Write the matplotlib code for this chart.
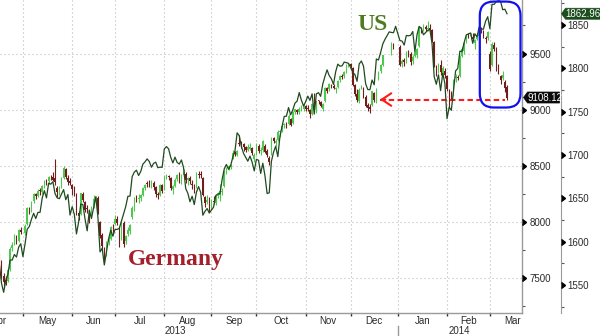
import numpy as np
import pandas as pd
import matplotlib
matplotlib.use("Agg")
import matplotlib.pyplot as plt
from matplotlib import font_manager
from matplotlib.transforms import blended_transform_factory, IdentityTransform
from matplotlib.patches import FancyBboxPatch, Polygon
from matplotlib.ticker import FixedLocator, NullFormatter

# ---------------- data: one slot per weekday, 15 Apr 2013 .. 13 Mar 2014 (None = market closed)
dates = pd.bdate_range("2013-04-15", "2014-03-13")

dax_open = [
    7740, 7700, 7640, 7520, 7480,  7470, 7580, 7770, 7800, 7860,  7830, 7930, None, 7900, 7980,
    8110, 8100, 8190, 8250, 8230,  8280, 8270, 8320, 8370, 8360,  8400, 8400, 8390, 8300, 8260,
    8310, 8390, 8470, 8390, 8360,  8330, 8300, 8240, 8080, 8070,  8250, 8180, 8120, 8100, 8090,
    8140, 8200, 8210, 8000, 7880,  7760, 7710, 7820, 7850, 7960,  7980, 8030, 7950, 7850, 7990,
    7830, 7890, 7920, 8040, 8120,  8220, 8200, 8210, 8240, 8300,  8340, 8340, 8320, 8350, 8310,
    8250, 8240, 8330, 8290, 8400,  8410, 8390, 8290, 8320, 8380,  8420, 8370, 8420, 8430, 8370,
    8390, 8340, 8330, 8310, 8430,  8420, 8390, 8220, 8180, 8190,  8120, 8190, 8170, 8230, 8240,
    8270, 8320, 8450, 8470, 8490,  8570, 8610, 8600, 8700, 8700,  8690, 8670, 8640, 8650, 8660,
    8560, 8610, 8680, 8630, 8640,  8680, 8630, 8570, 8610, 8750,  8700, 8730, 8800, 8820, 8860,
    8870, 8870, 8920, 8880, 8980,  9000, 8980, 9010, 9010, 9030,  9010, 9000, 8960, 9040, 9000,
    9080, 9070, 9010, 9080, 9190,  9180, 9220, 9210, 9180, 9200,  9260, 9300, 9300, 9340, 9400,
    9410, 9370, 9220, 9140, 9080,  9190, 9190, 9110, 9040, 9020,  9040, 9150, 9090, 9270, 9340,
    9400, None, None, None, 9500,  9580, None, None, 9560, 9410,  9440, 9430, 9510, 9500, 9430,
    9480, 9490, 9570, 9730, 9720,  9740, 9720, 9730, 9710, 9600,  9350, 9350, 9400, 9310, 9340,
    9300, 9130, 9140, 9130, 9280,  9290, 9300, 9480, 9520, 9600,  9660, 9660, 9650, 9590, 9630,
    9660, 9710, 9700, 9640, 9640,  9500, 9400, 9580, 9540, 9390,  9300, 9280, 9250, 9200,
]
dax_high = [
    7760, 7720, 7660, 7540, 7520,  7590, 7780, 7820, 7890, 7880,  7940, 7950, None, 7980, 8130,
    8130, 8190, 8260, 8260, 8290,  8300, 8330, 8370, 8380, 8410,  8420, 8440, 8557, 8320, 8320,
    8400, 8500, 8480, 8420, 8390,  8340, 8320, 8260, 8100, 8260,  8270, 8190, 8150, 8110, 8140,
    8240, 8230, 8230, 8010, 7900,  7780, 7830, 7870, 7960, 7980,  8060, 8050, 7960, 8010, 8010,
    7880, 7950, 7980, 8140, 8220,  8240, 8250, 8250, 8310, 8340,  8360, 8370, 8370, 8360, 8320,
    8270, 8340, 8340, 8420, 8430,  8420, 8400, 8330, 8390, 8430,  8440, 8430, 8470, 8440, 8400,
    8410, 8370, 8340, 8440, 8450,  8450, 8400, 8230, 8240, 8220,  8200, 8230, 8240, 8270, 8340,
    8300, 8460, 8490, 8510, 8520,  8640, 8630, 8640, 8770, 8720,  8700, 8680, 8690, 8700, 8670,
    8610, 8700, 8690, 8670, 8730,  8690, 8650, 8590, 8760, 8760,  8740, 8820, 8820, 8870, 8880,
    8890, 8960, 8930, 8990, 9010,  9010, 9020, 9040, 9050, 9040,  9040, 9010, 9060, 9150, 9080,
    9090, 9080, 9060, 9200, 9200,  9240, 9230, 9230, 9200, 9260,  9310, 9320, 9340, 9410, 9420,
    9420, 9380, 9230, 9180, 9190,  9220, 9200, 9130, 9060, 9050,  9170, 9160, 9190, 9340, 9410,
    9490, None, None, None, 9600,  9590, None, None, 9580, 9450,  9460, 9520, 9530, 9510, 9490,
    9520, 9550, 9740, 9740, 9760,  9750, 9790, 9760, 9720, 9610,  9400, 9420, 9440, 9390, 9370,
    9310, 9180, 9170, 9270, 9320,  9310, 9490, 9560, 9600, 9670,  9680, 9680, 9680, 9630, 9680,
    9720, 9740, 9710, 9660, 9700,  9520, 9600, 9600, 9560, 9410,  9310, 9340, 9260, 9220,
]
dax_low = [
    7690, 7640, 7490, 7420, 7440,  7460, 7560, 7740, 7790, 7800,  7820, 7890, None, 7880, 7970,
    8070, 8090, 8170, 8200, 8220,  8240, 8250, 8300, 8330, 8340,  8370, 8360, 8330, 8220, 8240,
    8300, 8380, 8380, 8330, 8330,  8240, 8230, 8060, 8020, 8060,  8180, 8090, 8080, 7990, 8060,
    8120, 8170, 8070, 7860, 7740,  7630, 7700, 7790, 7840, 7900,  7970, 7970, 7780, 7840, 7780,
    7800, 7870, 7890, 8030, 8100,  8180, 8170, 8190, 8230, 8280,  8310, 8310, 8300, 8280, 8220,
    8200, 8230, 8260, 8280, 8380,  8370, 8280, 8250, 8310, 8360,  8350, 8340, 8400, 8350, 8330,
    8340, 8290, 8260, 8300, 8390,  8390, 8230, 8130, 8160, 8090,  8110, 8160, 8150, 8210, 8190,
    8240, 8310, 8430, 8460, 8470,  8560, 8590, 8590, 8680, 8660,  8630, 8620, 8630, 8640, 8600,
    8530, 8600, 8610, 8600, 8620,  8610, 8580, 8510, 8600, 8700,  8680, 8720, 8760, 8800, 8840,
    8840, 8860, 8850, 8870, 8960,  8960, 8960, 8990, 8990, 8990,  8990, 8930, 8950, 9010, 8970,
    9050, 9020, 8990, 9070, 9150,  9170, 9190, 9180, 9150, 9190,  9250, 9270, 9280, 9330, 9380,
    9370, 9210, 9120, 9070, 9060,  9180, 9100, 9020, 8990, 8970,  9030, 9070, 9060, 9260, 9330,
    9390, None, None, None, 9490,  9540, None, None, 9390, 9380,  9390, 9420, 9470, 9400, 9410,
    9470, 9460, 9560, 9680, 9700,  9700, 9700, 9700, 9600, 9380,  9300, 9330, 9310, 9280, 9280,
    9170, 9020, 9090, 9120, 9250,  9260, 9290, 9470, 9500, 9590,  9640, 9630, 9610, 9540, 9620,
    9640, 9680, 9640, 9590, 9620,  9340, 9390, 9520, 9340, 9320,  9230, 9260, 9160, 9090,
]
dax_close = [
    7712, 7663, 7503, 7460, 7459,  7572, 7760, 7794, 7870, 7815,  7926, 7913, None, 7962, 8122,
    8093, 8181, 8249, 8227, 8278,  8272, 8319, 8363, 8353, 8398,  8396, 8377, 8352, 8266, 8305,
    8383, 8480, 8396, 8352, 8349,  8295, 8251, 8078, 8056, 8254,  8199, 8110, 8118, 8075, 8127,
    8208, 8212, 8087, 7871, 7789,  7692, 7810, 7834, 7952, 7959,  8024, 7986, 7837, 8001, 7806,
    7870, 7929, 7969, 8126, 8213,  8198, 8211, 8237, 8301, 8331,  8336, 8323, 8345, 8307, 8244,
    8242, 8329, 8276, 8411, 8410,  8398, 8299, 8317, 8377, 8416,  8367, 8418, 8442, 8373, 8391,
    8361, 8328, 8299, 8434, 8416,  8419, 8242, 8167, 8195, 8103,  8180, 8180, 8234, 8234, 8276,
    8275, 8449, 8469, 8494, 8509,  8613, 8604, 8628, 8694, 8676,  8665, 8640, 8665, 8666, 8618,
    8594, 8689, 8630, 8630, 8725,  8624, 8592, 8534, 8747, 8725,  8723, 8804, 8806, 8853, 8870,
    8868, 8947, 8866, 8980, 9004,  8975, 9009, 9016, 9034, 9009,  9008, 8957, 9048, 9039, 9078,
    9077, 9035, 9054, 9192, 9169,  9225, 9213, 9193, 9192, 9254,  9299, 9291, 9335, 9400, 9406,
    9389, 9224, 9140, 9084, 9172,  9193, 9115, 9034, 9018, 9006,  9164, 9085, 9181, 9336, 9400,
    9488, None, None, None, 9589,  9552, None, None, 9400, 9435,  9428, 9506, 9497, 9422, 9473,
    9511, 9540, 9734, 9717, 9742,  9716, 9730, 9721, 9631, 9392,  9349, 9406, 9336, 9374, 9306,
    9186, 9128, 9117, 9265, 9290,  9285, 9478, 9540, 9597, 9662,  9657, 9660, 9626, 9618, 9657,
    9708, 9699, 9661, 9631, 9692,  9359, 9589, 9543, 9351, 9351,  9265, 9307, 9189, 9108.12,
]
sp_close = [
    1552.4, 1574.6, 1552.0, 1541.6, 1555.3,  1562.5, 1578.8, 1578.8, 1585.2, 1582.2,
    1593.6, 1597.6, 1582.7, 1597.6, 1614.4,  1617.5, 1626.0, 1632.7, 1626.7, 1633.7,
    1633.8, 1650.3, 1658.8, 1650.5, 1667.5,  1666.3, 1669.2, 1655.4, 1650.5, 1649.6,
    None, 1660.1, 1648.4, 1654.4, 1630.7,    1640.4, 1631.4, 1608.9, 1622.6, 1643.4,
    1642.8, 1626.1, 1612.5, 1636.4, 1626.7,  1639.0, 1651.8, 1628.9, 1588.2, 1592.4,
    1573.1, 1588.0, 1603.3, 1613.2, 1606.3,  1614.1, 1614.1, 1615.4, None, 1631.9,
    1640.5, 1652.3, 1652.6, 1675.0, 1680.2,  1682.5, 1676.3, 1680.9, 1689.4, 1692.1,
    1695.5, 1692.4, 1685.9, 1690.3, 1691.7,  1685.3, 1686.0, 1685.7, 1706.9, 1709.7,
    1707.1, 1697.4, 1690.9, 1697.5, 1691.4,  1689.5, 1694.2, 1685.4, 1661.3, 1655.8,
    1646.1, 1652.4, 1642.8, 1657.0, 1663.5,  1656.8, 1630.5, 1635.0, 1638.2, 1633.0,
    None, 1639.8, 1653.1, 1655.1, 1655.2,    1671.7, 1684.0, 1689.1, 1683.4, 1688.0,
    1697.6, 1704.8, 1725.5, 1722.3, 1709.9,  1701.8, 1697.4, 1692.8, 1698.7, 1691.8,
    1681.6, 1695.0, 1693.9, 1678.7, 1690.5,  1676.1, 1655.5, 1656.4, 1692.6, 1703.2,
    1710.1, 1698.1, 1721.5, 1733.2, 1744.5,  1744.7, 1754.7, 1746.4, 1752.1, 1759.8,
    1762.1, 1772.0, 1763.3, 1756.5, 1761.6,  1767.9, 1763.0, 1770.5, 1747.2, 1770.6,
    1771.9, 1767.7, 1782.0, 1790.6, 1798.2,  1791.5, 1787.9, 1781.4, 1795.9, 1804.8,
    1802.5, 1802.8, 1807.2, None, 1805.8,    1800.9, 1795.2, 1792.8, 1785.0, 1805.1,
    1808.4, 1802.6, 1782.2, 1775.5, 1775.3,  1786.5, 1781.0, 1810.7, 1809.6, 1818.3,
    1828.0, 1833.3, None, 1842.0, 1841.4,    1841.1, 1848.4, None, 1832.0, 1831.4,
    1826.8, 1837.9, 1837.5, 1838.1, 1842.4,  1819.2, 1838.9, 1848.4, 1845.9, 1838.7,
    None, 1843.8, 1844.9, 1828.5, 1790.3,    1781.6, 1792.5, 1774.2, 1794.2, 1782.6,
    1741.9, 1755.2, 1751.6, 1773.4, 1797.0,  1799.8, 1819.8, 1819.3, 1829.8, 1838.6,
    None, 1840.8, 1828.8, 1839.8, 1836.3,    1847.6, 1845.1, 1845.2, 1854.3, 1859.5,
    1845.7, 1873.9, 1873.8, 1877.0, 1878.0,  1877.2, 1867.6, 1868.2, 1862.96,
]

month_names = ["Apr", "May", "Jun", "Jul", "Aug", "Sep", "Oct", "Nov", "Dec", "Jan", "Feb", "Mar"]
year_labels = ["2013", "2014"]
dax_ticks = [7500, 8000, 8500, 9000, 9500]
dax_minor = [7250, 7750, 8250, 8750, 9250, 9750]
sp_ticks = [1550, 1600, 1650, 1700, 1750, 1800, 1850]
sp_minor = [1525, 1575, 1625, 1675, 1725, 1775, 1825, 1875]
label_us, label_de = "US", "Germany"

# ---------------- styling / layout
names = {f.name for f in font_manager.fontManager.ttflist}
tick_font = "Liberation Sans Narrow" if "Liberation Sans Narrow" in names else "Liberation Sans"
serif_font = "Liberation Serif" if "Liberation Serif" in names else "DejaVu Serif"
plt.rcParams["font.family"] = [tick_font, "DejaVu Sans"]

GREEN, RED, SPX = "#4ec84e", "#741b1b", "#1f4a1f"
GRID, AXC, TXT = "#b8b8b8", "#9a9a9a", "#2a2a2a"
W, H = 600.0, 336.0
AX_W, AX_B = 522.0, 23.0
OUT_PX = 38.5          # distance of the S&P axis from the DAX axis, pixels
x_lim = (1.3, 245.0)
dax_ylim = (7188, 9977)
sp_ylim = (1517.7, 1878.8)

n = len(dates)
for arr in (dax_open, dax_high, dax_low, dax_close, sp_close):
    assert len(arr) == n, (len(arr), n)

x = np.arange(n)
o = np.array(dax_open, dtype=float)
hi = np.array(dax_high, dtype=float)
lo = np.array(dax_low, dtype=float)
c = np.array(dax_close, dtype=float)
sp = np.array(sp_close, dtype=float)

# month boundaries in weekday-slot units
full = pd.bdate_range("2013-04-01", "2014-04-30")
off = full.get_loc(pd.Timestamp("2013-04-15"))
fpos = np.arange(len(full)) - off
mon = np.asarray(full.month)
mstart = fpos[np.r_[True, mon[1:] != mon[:-1]]]      # Apr13 .. Apr14
bounds = mstart[1:-1]                                  # May .. Mar
mids = (mstart[:-1] + mstart[1:]) / 2.0
jan_bound = mstart[9]

fig = plt.figure(figsize=(W / 100, H / 100), dpi=100)
fig.patch.set_facecolor("white")
ax = fig.add_axes([0, AX_B / H, AX_W / W, (H - AX_B) / H])
ax.set_facecolor("white")
ax2 = ax.twinx()

# candles
ok = ~np.isnan(c)
up = c >= o
cols = np.where(up, GREEN, RED)
ax.vlines(x[ok], lo[ok], hi[ok], colors=cols[ok], lw=0.8, zorder=2)
ax.bar(x[ok], np.maximum(np.abs(c - o), 6)[ok], bottom=np.minimum(o, c)[ok],
       width=0.72, color=cols[ok], linewidth=0, zorder=3)

# axes look
ax.set_xlim(*x_lim)
ax.set_ylim(*dax_ylim)
for s in ("left", "top"):
    ax.spines[s].set_visible(False)
for s in ("right", "bottom"):
    ax.spines[s].set_color(AXC)
    ax.spines[s].set_linewidth(1.0)
ax.set_axisbelow(True)
ax.set_xticks(bounds)
ax.xaxis.set_major_formatter(NullFormatter())
ax.tick_params(axis="x", length=2, width=1, color="#333333", direction="out")
ax.yaxis.tick_right()
ax.yaxis.set_label_position("right")
ax.set_yticks(dax_ticks)
ax.set_yticklabels([str(v) for v in dax_ticks])
ax.tick_params(axis="y", which="major", length=0, pad=5.5, labelsize=7, labelcolor=TXT,
               left=False, labelleft=False, right=True, labelright=True)
ax.yaxis.set_minor_locator(FixedLocator(dax_minor))
ax.yaxis.set_minor_formatter(NullFormatter())
ax.tick_params(axis="y", which="minor", length=2, width=0.8, color="#555555",
               right=True, left=False)
ax.grid(True, which="major", color=GRID, linestyle=(0, (1, 2.6)), linewidth=0.8)

bt = blended_transform_factory(ax.transAxes, ax.transData)
ax.plot(np.ones(len(dax_ticks)), dax_ticks, transform=bt, ls="none", marker=9, ms=4,
        color="black", clip_on=False, zorder=6)

# month and year labels
for name, m in zip(month_names, mids):
    ax.annotate(name, xy=(m, 0), xycoords=("data", "axes fraction"), xytext=(0, -6.0),
                textcoords="offset points", ha="center", va="center", fontsize=7,
                color=TXT, annotation_clip=False)
for lab, fx in zip(year_labels, (175.0 / AX_W, 459.0 / AX_W)):
    ax.annotate(lab, xy=(fx, 0), xycoords="axes fraction", xytext=(0, -13.0),
                textcoords="offset points", ha="center", va="center", fontsize=7,
                color=TXT, annotation_clip=False)
bx = blended_transform_factory(ax.transData, ax.transAxes)
ax.plot([jan_bound, jan_bound], [-13 / 313, -24 / 313], transform=bx, color=AXC,
        lw=1, clip_on=False)

# S&P 500 line on outer right axis
okp = ~np.isnan(sp)
ax2.plot(x[okp], sp[okp], color=SPX, lw=0.9, zorder=4)
ax2.set_ylim(*sp_ylim)
ax2.set_xlim(*x_lim)
for s in ("left", "top", "bottom"):
    ax2.spines[s].set_visible(False)
ax2.spines["right"].set_position(("outward", OUT_PX * 0.72))
ax2.spines["right"].set_color(AXC)
ax2.set_yticks(sp_ticks)
ax2.set_yticklabels([str(v) for v in sp_ticks])
ax2.tick_params(axis="y", which="major", length=0, pad=5.0, labelsize=7, labelcolor=TXT)
ax2.yaxis.set_minor_locator(FixedLocator(sp_minor))
ax2.yaxis.set_minor_formatter(NullFormatter())
ax2.tick_params(axis="y", which="minor", length=2, width=0.8, color="#555555")
bt2 = blended_transform_factory(ax2.transAxes, ax2.transData)
ax2.plot(np.full(len(sp_ticks), 1 + OUT_PX / AX_W), sp_ticks, transform=bt2, ls="none",
         marker=9, ms=4, color="black", clip_on=False, zorder=6)

# labels US / Germany
ax2.text(372.0 / AX_W, 1 - 30.0 / 313, label_us, transform=ax.transAxes, ha="center",
         va="baseline", fontsize=17, fontweight="bold", family=serif_font, color="#4e7b22")
ax2.text(175.5 / AX_W, 1 - 265.0 / 313, label_de, transform=ax.transAxes, ha="center",
         va="baseline", fontsize=17, fontweight="bold", family=serif_font, color="#a3202b")

# red dashed support arrow (annotation)
arrow_level = 9090
arrow_x = (178.7, 237.0)
ax.plot(arrow_x, (arrow_level, arrow_level), color="#ff1a1a", lw=1.5,
        ls=(0, (2.6, 1.6)), zorder=7)
ax.annotate("", xy=(arrow_x[0], arrow_level), xytext=(arrow_x[0] + 2.5, arrow_level),
            arrowprops=dict(arrowstyle="->,head_length=0.45,head_width=0.3", color="#ff1a1a",
                            lw=1.5, mutation_scale=15, shrinkA=0, shrinkB=0), zorder=7)

# blue rounded box (annotation) in data units -> pixels
box_x = (225.3, 244.3)
box_y = (9019, 9963)
(bx0, by0) = ax.transData.transform((box_x[0], box_y[0]))
(bx1, by1) = ax.transData.transform((box_x[1], box_y[1]))
fig.add_artist(FancyBboxPatch((bx0, by0), bx1 - bx0, by1 - by0,
                              boxstyle="round,pad=0,rounding_size=14",
                              transform=IdentityTransform(), fill=False,
                              ec="#1010f0", lw=1.6, zorder=10))

# last-value tags
def tag(xl, yc, text, color, width):
    h = 11
    pts = [(xl, yc), (xl + 4, yc + h / 2), (xl + width, yc + h / 2),
           (xl + width, yc - h / 2), (xl + 4, yc - h / 2)]
    fig.add_artist(Polygon(pts, closed=True, transform=IdentityTransform(), fc=color,
                           ec=color, lw=0.5, zorder=11))
    fig.text(xl + 4, yc, text, transform=IdentityTransform(), color="white", fontsize=7,
             va="center", ha="left", zorder=12)

spine_px = AX_W
y_dax = ax.transData.transform((0, c[ok][-1]))[1]
y_sp = ax2.transData.transform((0, sp[okp][-1]))[1]
tag(spine_px + 1.5, y_dax, f"{c[ok][-1]:.2f}", "#0a0a0a", 36)
tag(spine_px + OUT_PX + 1.0, y_sp, f"{sp[okp][-1]:.2f}", "#1d4d1d", 42)

fig.savefig("out.png", dpi=100, facecolor="white")
